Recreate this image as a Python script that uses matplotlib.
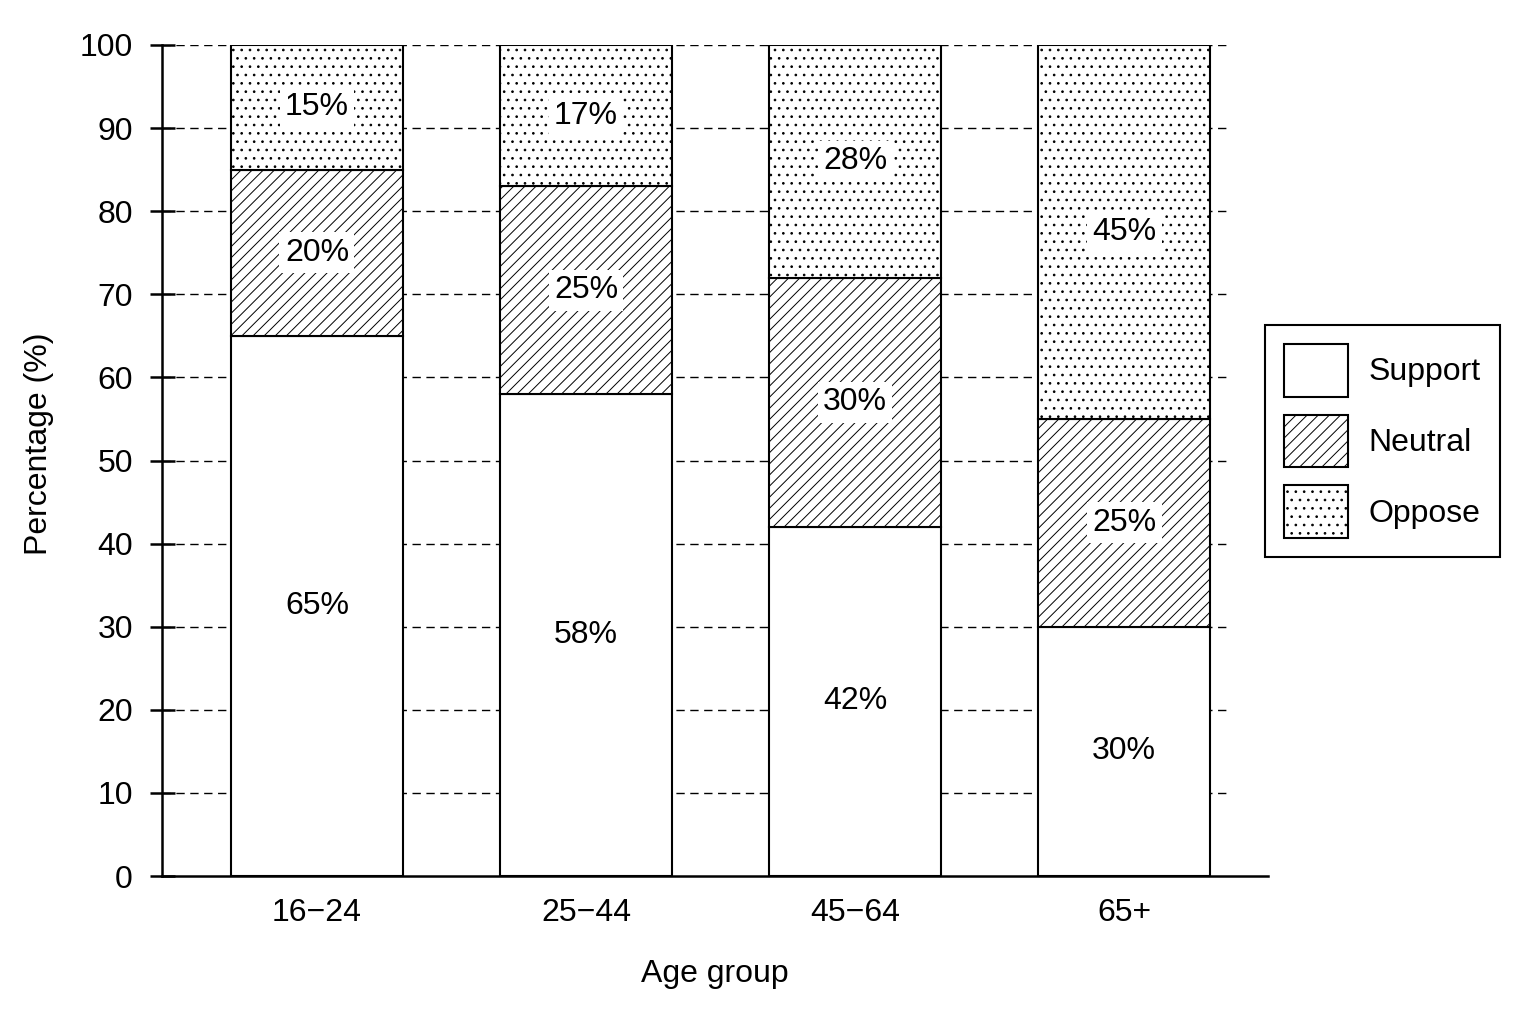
import numpy as np
import matplotlib
matplotlib.use("Agg")
import matplotlib.pyplot as plt
from matplotlib.patches import Patch

# data
groups = ["16\u221224", "25\u221244", "45\u221264", "65+"]
support = [65, 58, 42, 30]
neutral = [20, 25, 30, 25]
oppose = [15, 17, 28, 45]
series_names = ["Support", "Neutral", "Oppose"]

plt.rcParams['font.family'] = ['Liberation Sans', 'DejaVu Sans']
plt.rcParams['hatch.linewidth'] = 0.7
plt.rcParams['hatch.color'] = 'black'

fig = plt.figure(figsize=(15.36, 10.24), dpi=100)
ax = fig.add_axes([162 / 1536, 1 - 876 / 1024, (1268 - 162) / 1536, (876 - 45) / 1024])

x = np.arange(len(groups))
width = 0.64
fs = 23
hatches = ['', '///', '..']

# dashed gridlines behind the bars
for yv in range(10, 101, 10):
    ax.axhline(yv, xmin=0, xmax=0.962, color='black', lw=1.0, ls=(0, (6, 4)), zorder=0)

bottom2 = np.array(support)
bottom3 = bottom2 + np.array(neutral)
b1 = ax.bar(x, support, width, color='white', edgecolor='black', lw=1.5, zorder=2)
b2 = ax.bar(x, neutral, width, bottom=bottom2, color='white', edgecolor='black', lw=1.5,
            hatch=hatches[1], zorder=2)
b3 = ax.bar(x, oppose, width, bottom=bottom3, color='white', edgecolor='black', lw=1.5,
            hatch=hatches[2], zorder=2)

# value labels in the middle of each segment, on a white patch
for vals, base in [(support, np.zeros(4)), (neutral, bottom2), (oppose, bottom3)]:
    for xi, v, b in zip(x, vals, base):
        ax.text(xi, b + v / 2, f"{v}%", ha='center', va='center', fontsize=fs, zorder=3,
                bbox=dict(facecolor='white', edgecolor='none', pad=4))

ax.set_xlim(-0.576, 3.535)
ax.set_ylim(0, 100)
ax.set_yticks(range(0, 101, 10))
ax.set_xticks(x)
ax.set_xticklabels(groups)
ax.tick_params(axis='y', direction='inout', length=18, width=1.8, labelsize=fs, pad=12)
ax.tick_params(axis='x', length=0, labelsize=fs, pad=16)
for s in ['top', 'right']:
    ax.spines[s].set_visible(False)
for s in ['left', 'bottom']:
    ax.spines[s].set_linewidth(1.8)

ax.set_xlabel("Age group", fontsize=fs, labelpad=22)
ax.set_ylabel("Percentage (%)", fontsize=fs)
ax.yaxis.set_label_coords(-0.098, 0.52)

handles = [Patch(facecolor='white', edgecolor='black', lw=1.5, hatch=h) for h in hatches]
leg = fig.legend(handles, series_names, loc='center left',
                 bbox_to_anchor=(1265 / 1536, 1 - 441 / 1024), fontsize=fs,
                 fancybox=False, edgecolor='black', framealpha=1, borderaxespad=0,
                 handlelength=2.0, handleheight=2.17, labelspacing=0.56,
                 borderpad=0.6, handletextpad=0.65)
leg.get_frame().set_linewidth(1.5)

fig.savefig("out.png", dpi=100, facecolor='white')
